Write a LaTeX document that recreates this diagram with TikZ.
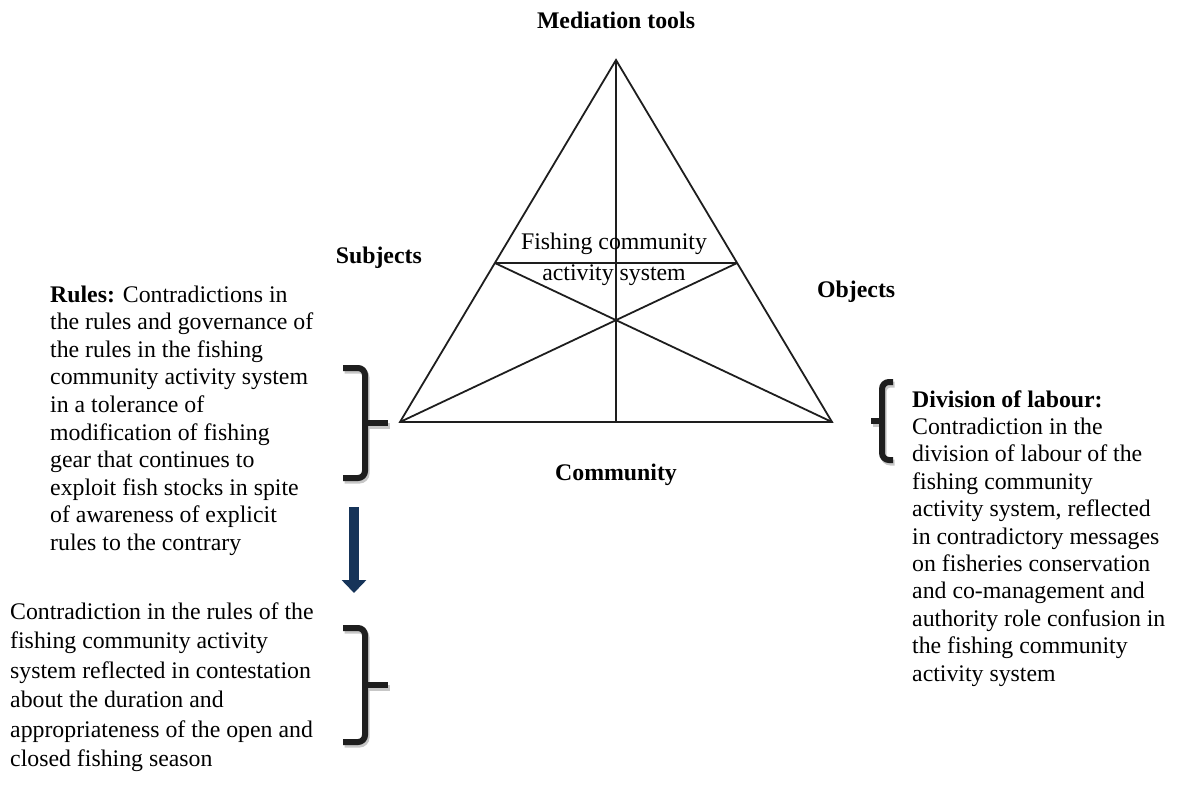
\documentclass[tikz,border=0pt]{standalone}
\usepackage{fontspec}
\setmainfont{Liberation Serif}
\usetikzlibrary{calc,arrows.meta}
\definecolor{ink}{HTML}{1E1E1E}
\definecolor{navy}{HTML}{163459}
\begin{document}
\begin{tikzpicture}[x=1pt,y=-1pt,
  edge/.style={draw=ink,line width=1.8pt},
  body/.style={inner sep=0pt,font=\fontsize{23.8}{27.6}\selectfont},
  label/.style={inner sep=0pt,font=\fontsize{23.8}{27.6}\selectfont\bfseries},
  bracket/.style={line width=6pt,rounded corners=7pt},
]
\useasboundingbox (0,0) rectangle (1177,784);

% activity triangle
\coordinate (apex) at (616,60);
\coordinate (bl) at (400,422);
\coordinate (br) at (832,422);
\coordinate (foot) at (616,422);
\coordinate (ml) at ($(apex)!0.5608!(bl)$);
\coordinate (mr) at ($(apex)!0.5608!(br)$);
\draw[edge] (apex) -- (bl) -- (br) -- cycle;
\draw[edge] (apex) -- (foot);
\draw[edge] (ml) -- (mr);
\draw[edge] (ml) -- (br);
\draw[edge] (mr) -- (bl);

\node[body,anchor=base] (system) at (614,249)
  {\fontsize{23.8}{31}\selectfont\begin{tabular}[t]{@{}c@{}}Fishing community\\activity system\end{tabular}};

% corner labels
\node[label,anchor=base] (mediation) at (616,29) {Mediation tools};
\node[label,anchor=base east] (subjects) at (422,263) {Subjects};
\node[label,anchor=base west] (objects) at (817,297) {Objects};
\node[label,anchor=base] (community) at (616,480) {Community};

% contradiction texts
\node[body,anchor=base west] (rules) at (50,302)
  {\begin{tabular}[t]{@{}l@{}}
   \textbf{Rules:} Contradictions in\\
   the rules and governance of\\
   the rules in the fishing\\
   community activity system\\
   in a tolerance of\\
   modification of fishing\\
   gear that continues to\\
   exploit fish stocks in spite\\
   of awareness of explicit\\
   rules to the contrary
  \end{tabular}};

\node[body,anchor=base west] (season) at (10,619)
  {\fontsize{23.8}{29.5}\selectfont\begin{tabular}[t]{@{}l@{}}
   Contradiction in the rules of the\\
   fishing community activity\\
   system reflected in contestation\\
   about the duration and\\
   appropriateness of the open and\\
   closed fishing season
  \end{tabular}};

\node[body,anchor=base west] (labour) at (912,407)
  {\fontsize{23.8}{27.4}\selectfont\begin{tabular}[t]{@{}l@{}}
   \textbf{Division of labour:}\\
   Contradiction in the\\
   division of labour of the\\
   fishing community\\
   activity system, reflected\\
   in contradictory messages\\
   on fisheries conservation\\
   and co-management and\\
   authority role confusion in\\
   the fishing community\\
   activity system
  \end{tabular}};

% braces, each with a soft grey shadow beneath
\foreach \c/\dx/\dy in {black!22/1.5/2.5, ink/0/0} {
  \begin{scope}[shift={(\dx,\dy)}]
    \draw[bracket,draw=\c] (343,368) -- (365,368) -- (365,478) -- (343,478);
    \draw[line width=6pt,draw=\c] (365,423) -- (388,423);
    \draw[bracket,draw=\c] (343,628) -- (365,628) -- (365,742) -- (343,742);
    \draw[line width=6pt,draw=\c] (365,685) -- (388,685);
    \draw[bracket,draw=\c] (893,382) -- (882,382) -- (882,460) -- (893,460);
    \draw[line width=6pt,draw=\c] (882,421) -- (871,421);
  \end{scope}
}

% downward arrow between the two rule contradictions
\coordinate (arrowtop) at (354,507);
\coordinate (arrowtip) at (354,593);
\draw[draw=navy,line width=10pt,-{Triangle[width=24pt,length=13pt]}] (arrowtop) -- (arrowtip);
\end{tikzpicture}
\end{document}
